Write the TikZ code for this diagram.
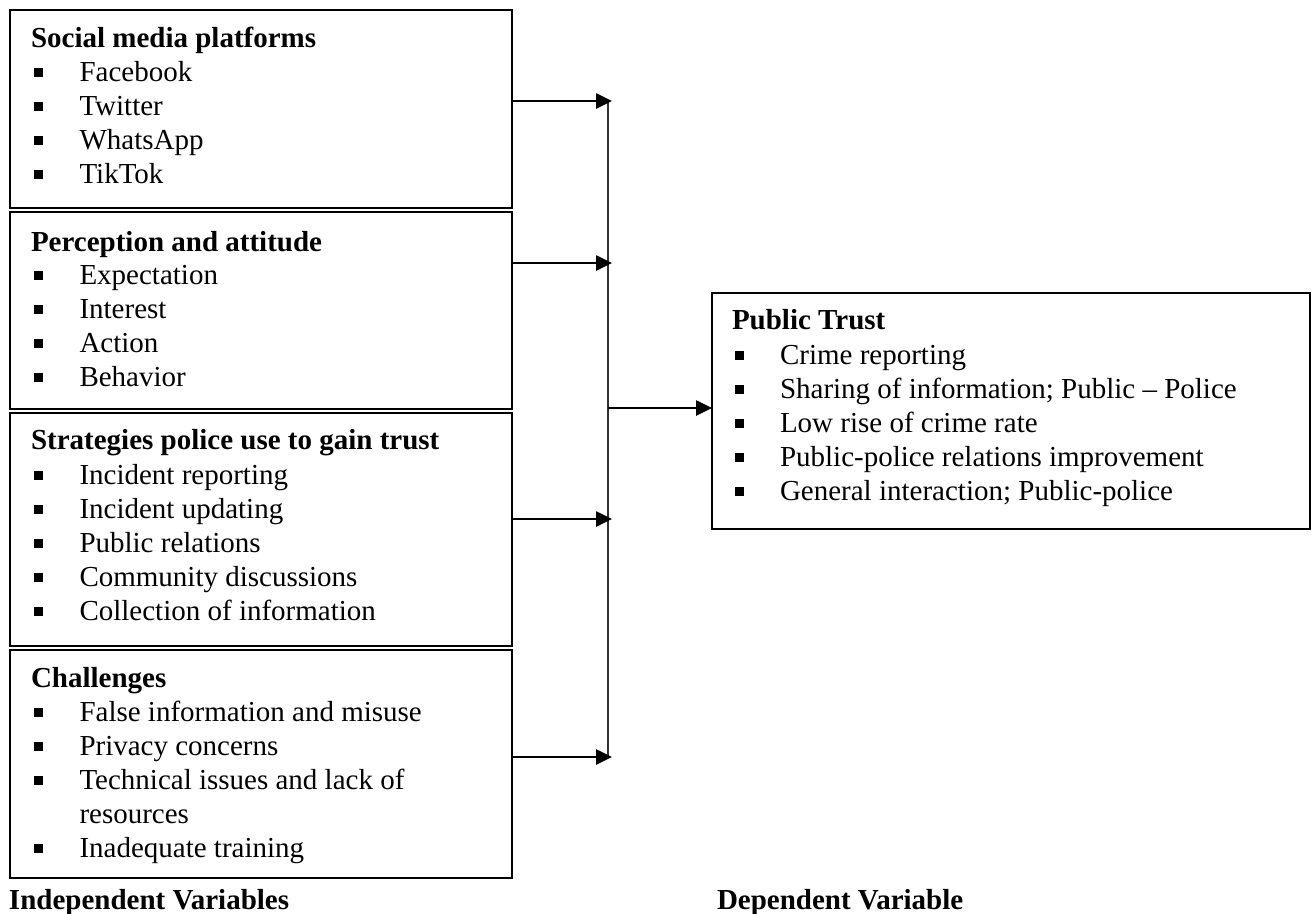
\documentclass[tikz,border=0pt]{standalone}
\usepackage{fontspec}
\setmainfont{Liberation Serif}
\usetikzlibrary{arrows.meta}
\newcommand{\bsq}{\llap{\rule[4pt]{9pt}{9pt}\hspace{36.5pt}}}
\begin{document}
\begin{tikzpicture}[x=1pt,y=-1pt,
  every node/.style={inner sep=0pt, outer sep=0pt},
  box/.style={draw, line width=1.6pt, rectangle, anchor=north west},
  head/.style={anchor=base west, font=\fontsize{29}{34}\selectfont\bfseries},
  itm/.style={anchor=base west, font=\fontsize{29}{34}\selectfont},
  arr/.style={line width=2.6pt, -{Triangle[length=16pt,width=15pt]}},
  bus/.style={line width=1.2pt, black!80}]
\useasboundingbox (0,0) rectangle (1314,913);
% boxes
\node[box, minimum width=502pt, minimum height=198pt] (b1) at (10,10) {};
\node[box, minimum width=502pt, minimum height=197pt] (b2) at (10,212) {};
\node[box, minimum width=502pt, minimum height=233pt] (b3) at (10,413) {};
\node[box, minimum width=502pt, minimum height=228pt] (b4) at (10,650) {};
\node[box, minimum width=598pt, minimum height=236pt] (pt) at (712,293) {};
% box 1
\node[head] (h1) at (31,47) {Social media platforms};
\node[itm] (i11) at (79.5,81) {\bsq Facebook};
\node[itm] (i12) at (79.5,115) {\bsq Twitter};
\node[itm] (i13) at (79.5,149) {\bsq WhatsApp};
\node[itm] (i14) at (79.5,183) {\bsq TikTok};
% box 2
\node[head] (h2) at (31,251) {Perception and attitude};
\node[itm] (i21) at (79.5,284) {\bsq Expectation};
\node[itm] (i22) at (79.5,318) {\bsq Interest};
\node[itm] (i23) at (79.5,352) {\bsq Action};
\node[itm] (i24) at (79.5,386) {\bsq Behavior};
% box 3
\node[head] (h3) at (31,449) {Strategies police use to gain trust};
\node[itm] (i31) at (79.5,484) {\bsq Incident reporting};
\node[itm] (i32) at (79.5,518) {\bsq Incident updating};
\node[itm] (i33) at (79.5,552) {\bsq Public relations};
\node[itm] (i34) at (79.5,586) {\bsq Community discussions};
\node[itm] (i35) at (79.5,620) {\bsq Collection of information};
% box 4
\node[head] (h4) at (31,687) {Challenges};
\node[itm] (i41) at (79.5,721) {\bsq False information and misuse};
\node[itm] (i42) at (79.5,755) {\bsq Privacy concerns};
\node[itm] (i43) at (79.5,789) {\bsq Technical issues and lack of};
\node[itm] (i44) at (79.5,823) {resources};
\node[itm] (i45) at (79.5,857) {\bsq Inadequate training};
% right box
\node[head] (hp) at (732,329) {Public Trust};
\node[itm] (p1) at (780,364) {\bsq Crime reporting};
\node[itm] (p2) at (780,398) {\bsq Sharing of information; Public -- Police};
\node[itm] (p3) at (780,432) {\bsq Low rise of crime rate};
\node[itm] (p4) at (780,466) {\bsq Public-police relations improvement};
\node[itm] (p5) at (780,500) {\bsq General interaction; Public-police};
% labels
\node[head] (lind) at (9,909) {Independent Variables};
\node[head] (ldep) at (717,909) {Dependent Variable};
% connectors
\coordinate (j1) at (612,101);
\coordinate (j2) at (612,263);
\coordinate (j3) at (612,519);
\coordinate (j4) at (612,757);
\coordinate (btop) at (608,101);
\coordinate (bbot) at (608,757);
\coordinate (m) at (608,408);
\draw[bus] (btop) -- (bbot);
\draw[arr] (b1.east |- j1) -- (j1);
\draw[arr] (b2.east |- j2) -- (j2);
\draw[arr] (b3.east |- j3) -- (j3);
\draw[arr] (b4.east |- j4) -- (j4);
\draw[arr] (m) -- (pt.west |- m);
\end{tikzpicture}
\end{document}
